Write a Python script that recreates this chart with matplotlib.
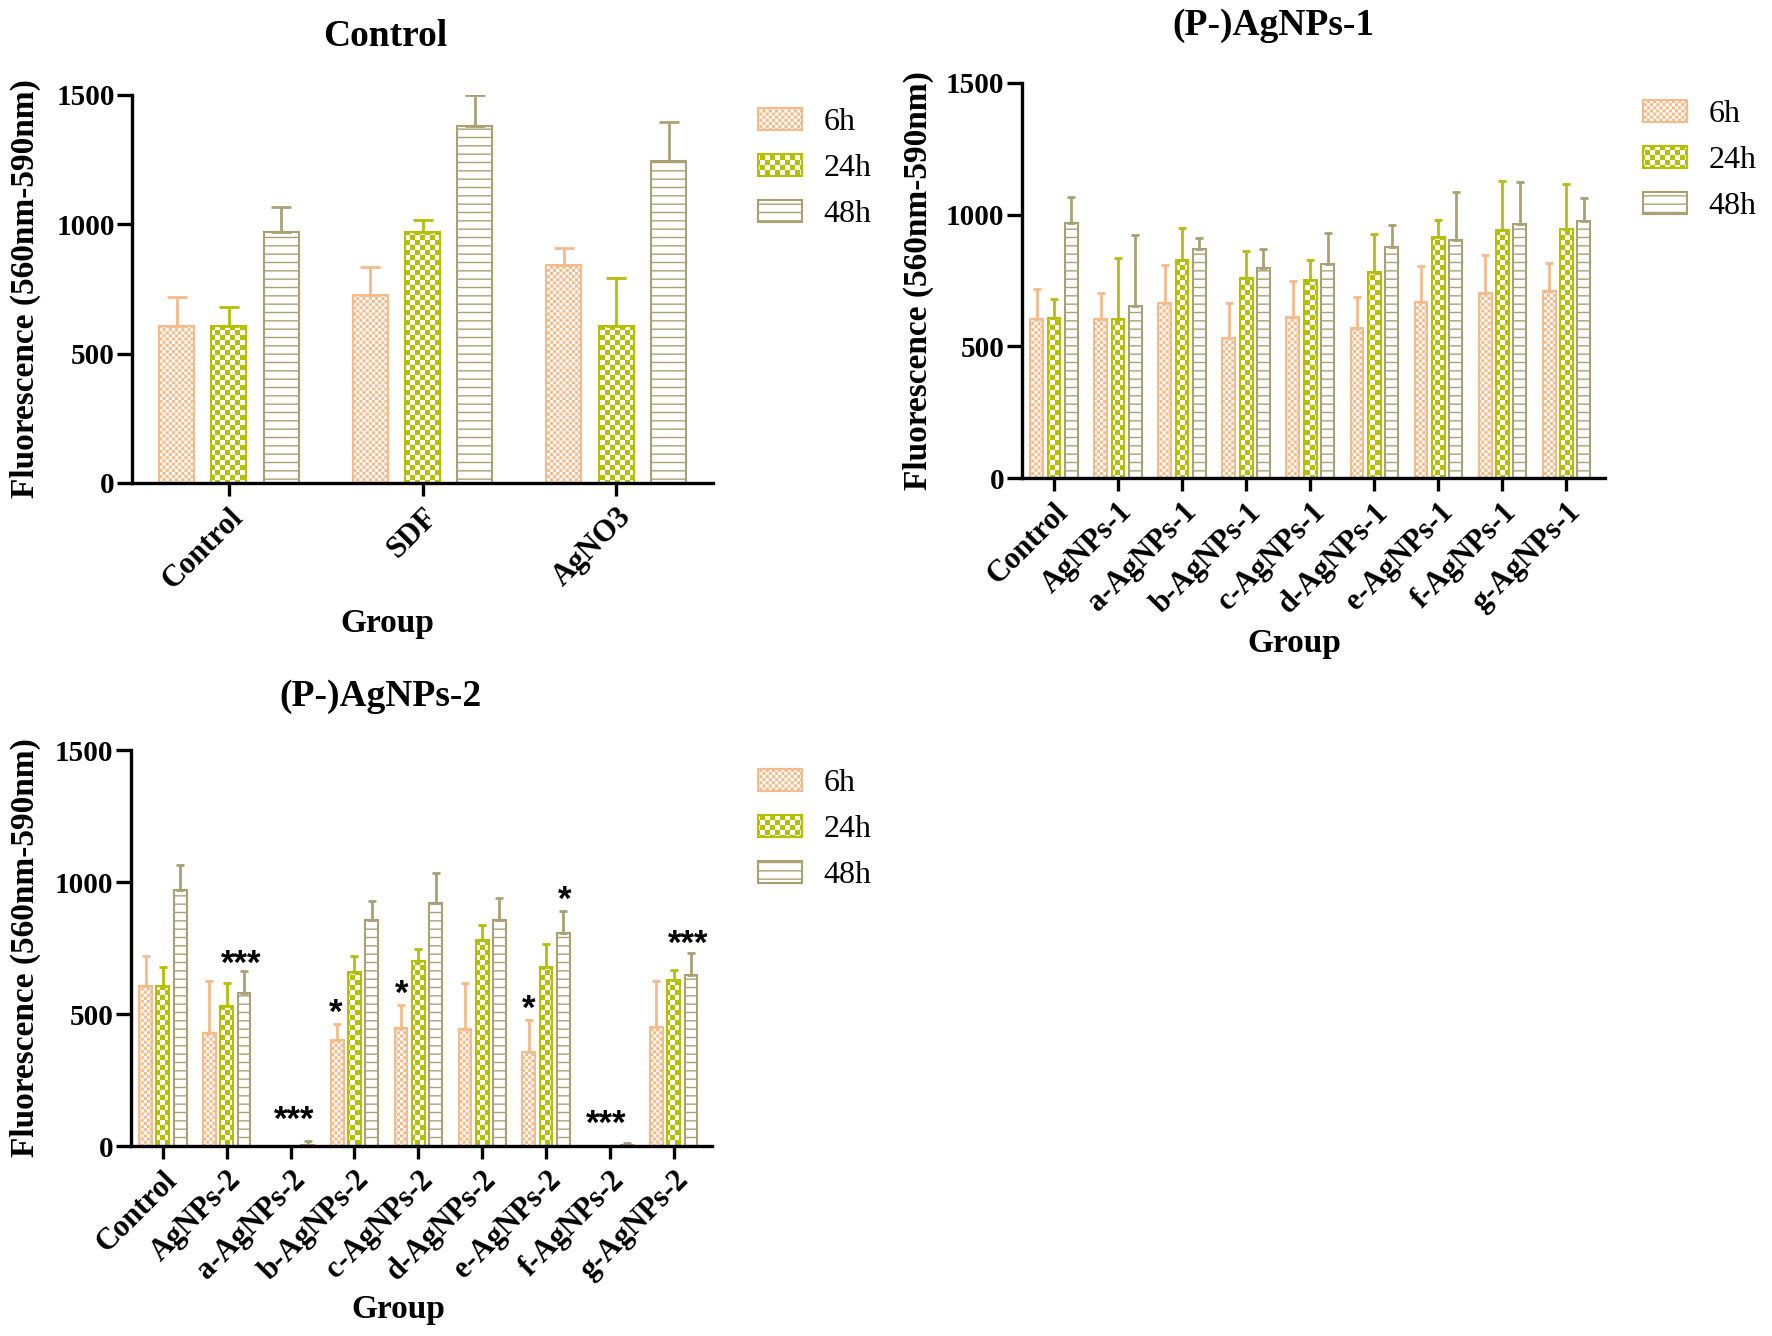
"""
Fluorescence (560nm-590nm) bar charts for Control, (P-)AgNPs-1 and (P-)AgNPs-2.
"""

import numpy as np
import matplotlib
matplotlib.use("Agg")
import matplotlib.pyplot as plt
import matplotlib.hatch as mhatch
import matplotlib.transforms as mtransforms
from matplotlib.path import Path

# ---- data (mean, sd) ----
times = ["6h", "24h", "48h"]

ctrl_groups = ["Control", "SDF", "AgNO3"]
ctrl_mean = [[605, 727, 842],      # 6h
             [607, 970, 606],      # 24h
             [969, 1379, 1244]]    # 48h
ctrl_sd = [[113, 108, 67],
           [73, 46, 188],
           [97, 121, 151]]

np1_groups = ["Control", "AgNPs-1", "a-AgNPs-1", "b-AgNPs-1", "c-AgNPs-1",
              "d-AgNPs-1", "e-AgNPs-1", "f-AgNPs-1", "g-AgNPs-1"]
np1_mean = [[605, 602, 663, 530, 611, 571, 668, 704, 710],
            [607, 602, 829, 760, 751, 782, 916, 941, 944],
            [969, 655, 868, 796, 814, 879, 903, 966, 975]]
np1_sd = [[113, 102, 145, 136, 137, 115, 138, 141, 107],
          [73, 233, 120, 101, 78, 146, 63, 186, 172],
          [97, 269, 43, 75, 118, 83, 183, 158, 89]]

np2_groups = ["Control", "AgNPs-2", "a-AgNPs-2", "b-AgNPs-2", "c-AgNPs-2",
              "d-AgNPs-2", "e-AgNPs-2", "f-AgNPs-2", "g-AgNPs-2"]
np2_mean = [[605, 430, 0, 401, 448, 445, 355, 0, 452],
            [607, 532, 0, 659, 700, 780, 678, 0, 627],
            [969, 579, 4, 856, 920, 856, 808, 2, 648]]
np2_sd = [[113, 196, 0, 60, 85, 172, 122, 0, 174],
          [73, 85, 0, 62, 48, 58, 87, 0, 41],
          [97, 85, 15, 73, 113, 85, 84, 11, 84]]

# significance marks in panel 3: (group index, x shift in group units, height, text)
np2_marks = [(1, 0.23, 725, "***"), (2, 0.05, 134, "***"), (3, -0.30, 541, "*"),
             (4, -0.26, 611, "*"), (6, -0.27, 553, "*"), (6, 0.30, 967, "*"),
             (7, -0.05, 117, "***"), (8, 0.235, 802, "***")]

colors = ["#F6BA8B", "#B4BF05", "#A9A174"]
hatches = ["x", "X", "--"]


# checkerboard hatch: 'x' fine cells, 'X' coarse cells
class CheckerHatch(mhatch.HatchPatternBase):
    cells_for = {"x": 32, "X": 20}

    def __init__(self, hatch, density):
        self.cells = 0
        for ch, n in self.cells_for.items():
            if ch in hatch:
                self.cells = n
        self.num_vertices = 5 * (self.cells ** 2 // 2)

    def set_vertices_and_codes(self, vertices, codes):
        n = self.cells
        c = 1.0 / n
        d = plt.rcParams["hatch.linewidth"] / 72 / 2
        sq = np.array([[d, d], [c - d, d], [c - d, c - d], [d, c - d], [d, d]])
        rows, cols = np.indices((n, n))
        on = (rows + cols) % 2 == 0
        offs = np.column_stack([cols[on], rows[on]]) * c
        vertices[:] = (offs[:, None, :] + sq[None, :, :]).reshape(-1, 2)
        codes[:] = np.tile([Path.MOVETO, Path.LINETO, Path.LINETO,
                            Path.LINETO, Path.CLOSEPOLY], len(offs))


mhatch._hatch_types = [mhatch.HorizontalHatch, CheckerHatch]

plt.rcParams["hatch.linewidth"] = 1.0
plt.rcParams["font.family"] = ["Liberation Serif", "DejaVu Serif"]

fig = plt.figure(figsize=(17.72, 13.36), dpi=100)


def panel(rect, title, groups, means, sds, width, capsize, title_xy, ylab_x,
          group_xy, leg_xy, marks=None):
    ax = fig.add_axes(rect)
    x = np.arange(len(groups))
    for i, t in enumerate(times):
        xi = x + (i - 1) * 0.27
        m = np.array(means[i], dtype=float)
        s = np.array(sds[i], dtype=float)
        ax.bar(xi, m, width, facecolor="white", edgecolor=colors[i],
               hatch=hatches[i], linewidth=1.5, label=t, zorder=1)
        s = np.where(s > 0, s, np.nan)
        ax.errorbar(xi, m, yerr=[np.zeros_like(s), s], fmt="none",
                    ecolor=colors[i], elinewidth=2.0, capsize=capsize,
                    capthick=2.0, zorder=2)

    ax.set_xlim(-0.5, len(groups) - 0.5 if len(groups) == 3 else len(groups) - 0.4)
    ax.set_ylim(0, 1500)
    ax.set_yticks([0, 500, 1000, 1500])
    ax.set_xticks(x)
    ax.set_xticklabels(groups, rotation=45, ha="right", va="top",
                       rotation_mode="anchor", fontsize=22, fontweight="bold")
    shift = mtransforms.ScaledTranslation(10 / 100, 0, fig.dpi_scale_trans)
    for lab in ax.get_xticklabels():
        lab.set_transform(lab.get_transform() + shift)
    for lab in ax.get_yticklabels():
        lab.set_fontsize(21)
        lab.set_fontweight("bold")

    for side in ["top", "right"]:
        ax.spines[side].set_visible(False)
    for side in ["left", "bottom"]:
        ax.spines[side].set_linewidth(2.4)
    ax.tick_params(axis="y", width=2.4, length=11, pad=1.5)
    ax.tick_params(axis="x", width=2.4, length=9, pad=5)

    ax.set_ylabel("Fluorescence (560nm-590nm)", fontsize=24, fontweight="bold")
    ax.yaxis.set_label_coords(ylab_x, 0.5)
    ax.yaxis.label.set_va("center")
    ax.set_xlabel("Group", fontsize=24, fontweight="bold")
    ax.xaxis.set_label_coords(*group_xy)
    ax.xaxis.label.set_va("center")

    ax.text(title_xy[0], title_xy[1], title, transform=ax.transAxes,
            ha="center", va="center", fontsize=27, fontweight="bold")

    ax.legend(loc="upper left", bbox_to_anchor=leg_xy, frameon=False,
              fontsize=23, handlelength=1.375, handleheight=0.69,
              handletextpad=0.69, labelspacing=0.52, borderpad=0,
              borderaxespad=0)

    if marks:
        for gi, dx, h, txt in marks:
            ax.annotate(txt, (gi + dx, h), xytext=(0, -7),
                        textcoords="offset points", ha="center", va="center",
                        fontsize=25, fontweight="bold",
                        family=["Liberation Sans", "DejaVu Sans"])
    return ax


panel([0.0745, 0.6385, 0.3279, 0.2904], "Control", ctrl_groups, ctrl_mean,
      ctrl_sd, 0.18, 7.2, (0.435, 1.152), -0.183, (0.44, -0.363),
      (1.077, 0.966))
panel([0.5767, 0.6422, 0.3290, 0.2957], "(P-)AgNPs-1", np1_groups, np1_mean,
      np1_sd, 0.2, 3.0, (0.432, 1.145), -0.178, (0.467, -0.42),
      (1.065, 0.957))
panel([0.0739, 0.1422, 0.3279, 0.2964], "(P-)AgNPs-2", np2_groups, np2_mean,
      np2_sd, 0.2, 3.0, (0.429, 1.136), -0.181, (0.46, -0.414),
      (1.079, 0.952), marks=np2_marks)

fig.savefig("out.png", dpi=100)
